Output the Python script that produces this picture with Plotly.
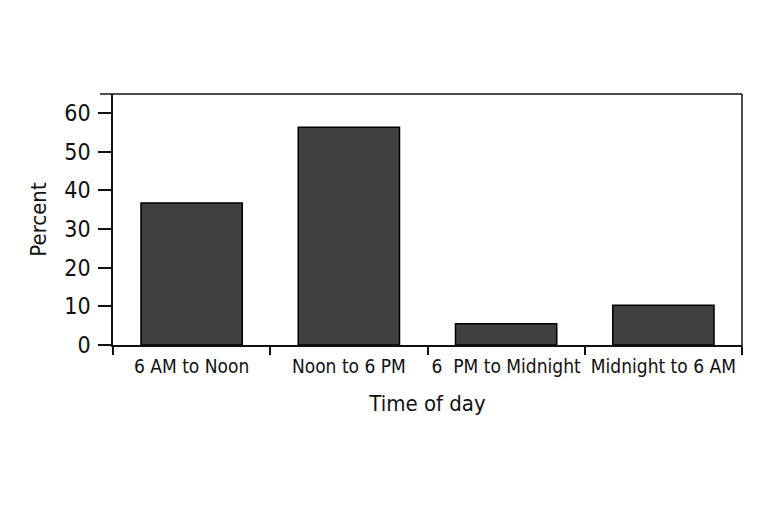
import plotly.graph_objects as go

categories = ["6 AM to Noon", "Noon to 6 PM", "6  PM to Midnight", "Midnight to 6 AM"]
percent = [36.7, 56.3, 5.5, 10.3]
y_ticks = [0, 10, 20, 30, 40, 50, 60]

FONT = "Liberation Sans Narrow, DejaVu Sans Condensed, DejaVu Sans, sans-serif"

fig = go.Figure(go.Bar(
    x=categories, y=percent,
    marker=dict(color="#404040", line=dict(color="#000000", width=1.5)),
))

fig.update_layout(
    width=771, height=514,
    margin=dict(l=105, r=37, t=86, b=177),
    paper_bgcolor="white", plot_bgcolor="white",
    bargap=0.356,
    font=dict(family=FONT, size=19, color="#111111"),
    showlegend=False,
    xaxis=dict(
        type="category", range=[-0.5, 3.5], automargin=False, tickangle=0,
        showline=True, linecolor="#111111", linewidth=1.5, mirror=False,
        ticks="outside", tickson="boundaries", ticklen=8, tickwidth=1.5, tickcolor="#111111",
        showgrid=False, zeroline=False, ticklabelstandoff=3,
        title=dict(text="Time of day", standoff=20, font=dict(size=22)),
        tickfont=dict(size=19),
    ),
    yaxis=dict(
        range=[0, 64.9], tickvals=y_ticks, automargin=False,
        showline=True, linecolor="#111111", linewidth=1.5,
        ticks="outside", ticklen=13, tickwidth=1.5, tickcolor="#111111",
        showgrid=False, zeroline=False, ticklabelstandoff=3,
        title=dict(text="Percent", standoff=12, font=dict(size=22)),
        tickfont=dict(size=23),
    ),
    shapes=[
        dict(type="line", xref="paper", yref="paper", x0=-0.0207, x1=1, y0=1, y1=1,
             line=dict(color="#111111", width=1.5)),
        dict(type="line", xref="paper", yref="paper", x0=1, x1=1, y0=-0.03, y1=1,
             line=dict(color="#111111", width=1.5)),
    ],
)

post = """
document.querySelectorAll('svg text').forEach(function(t){ t.style.fontStretch = 'condensed'; });
"""
fig.write_html("out.html", post_script=post)
